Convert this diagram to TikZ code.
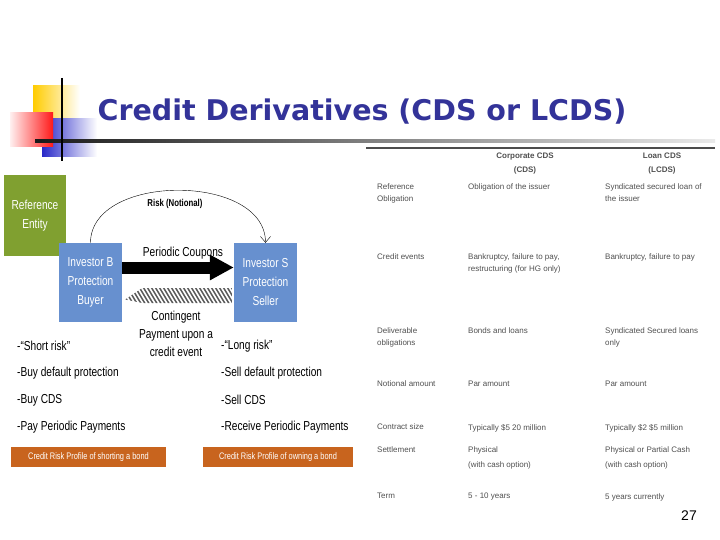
\documentclass[tikz,border=0pt]{standalone}
\usepackage{fontspec}
\setmainfont{Liberation Sans}
\newfontfamily\narrowfont[FakeStretch=0.78]{Liberation Sans}
\newfontfamily\titlefont{DejaVu Sans}
\usetikzlibrary{arrows.meta,positioning,calc}
\definecolor{titleblue}{RGB}{51,51,153}
\definecolor{entgreen}{RGB}{128,160,48}
\definecolor{invblue}{RGB}{103,144,207}
\definecolor{profor}{RGB}{200,100,30}
\definecolor{logoyel}{RGB}{255,204,0}
\definecolor{logoblue}{RGB}{40,40,200}
\definecolor{tabgray}{RGB}{80,80,80}
\begin{document}
\begin{tikzpicture}[x=1pt, y=-1pt,
  font=\narrowfont\fontsize{13}{19}\selectfont,
  entity/.style={fill=entgreen, text=white, align=center, minimum width=62pt, minimum height=81pt, inner sep=0pt},
  investor/.style={fill=invblue, text=white, align=center, minimum width=63pt, minimum height=79pt, inner sep=0pt},
  profile/.style={fill=profor, text=white, font=\narrowfont\fontsize{9.5}{11}\selectfont, minimum height=20pt, inner sep=0pt},
  bul/.style={anchor=west, inner sep=0pt},
  cell/.style={anchor=north west, align=left, inner sep=0pt, text=tabgray, font=\fontsize{8}{12}\selectfont},
  hdr/.style={cell, anchor=north, align=center, font=\bfseries\fontsize{8}{14}\selectfont},
  arr/.style={-{Straight Barb[length=6pt,width=10pt]}, thin},
  stripe/.style={line width=1.5pt, black!65}
]
\fill[white] (0,0) rectangle (720,540);
\useasboundingbox (0,0) rectangle (720,540);
% ---------------- logo and title
\fill[left color=logoyel, right color=white] (33,86) rectangle (80,120);
\fill[left color=logoblue, right color=white] (42,119) rectangle (97,157);
\fill[left color=red!6, right color=red!90] (10,113) rectangle (53,147);
\fill[left color=black!90, right color=black!8] (35,139.5) rectangle (715,142.5);
\draw[line width=2.5pt] (62,78) -- (62,161);
\node[font=\titlefont\bfseries\fontsize{28.5}{32}\selectfont, text=titleblue] (title) at (362,112) {Credit Derivatives (CDS or LCDS)};
% ---------------- left: parties
\node[entity] (refent) at (35,215.5) {Reference\\Entity};
\node[investor] (invB) at (90.5,282.5) {Investor B\\Protection\\Buyer};
\node[investor] (invS) at (265.5,282.5) {Investor S\\Protection\\Seller};
\node[font=\narrowfont\bfseries\fontsize{10}{12}\selectfont] (risk) at (175,204) {Risk (Notional)};
\node (coup) at (183,253) {Periodic Coupons};
\node[align=center, font=\narrowfont\fontsize{13}{18}\selectfont] (cont) at (176,334) {Contingent\\Payment upon a\\credit event};
% ---------------- left: profiles
\node[bul] (sb1) at (17,346) {-“Short risk”};
\node[bul, below=27pt of sb1.west, anchor=west] (sb2) {-Buy default protection};
\node[bul, below=27pt of sb2.west, anchor=west] (sb3) {-Buy CDS};
\node[bul, below=27pt of sb3.west, anchor=west] (sb4) {-Pay Periodic Payments};
\node[bul] (lb1) at (221,346) {-“Long risk”};
\node[bul, below=27pt of lb1.west, anchor=west] (lb2) {-Sell default protection};
\node[bul, below=27pt of lb2.west, anchor=west] (lb3) {-Sell CDS};
\node[bul, below=27pt of lb3.west, anchor=west] (lb4) {-Receive Periodic Payments};
\node[profile, minimum width=155pt] (pshort) at (88.5,457) {Credit Risk Profile of shorting a bond};
\node[profile, minimum width=150pt] (plong) at (278,457) {Credit Risk Profile of owning a bond};
% ---------------- arrows
\draw[arr] (invB.north) .. controls +(0,-70) and +(0,-70) .. (invS.north);
\draw[line width=12pt, -{Triangle[length=24pt,width=24pt]}] ([yshift=15pt]invB.east) -- ([yshift=15pt]invS.west);
\begin{scope}
  \clip ($(invB.east)+(3,17)$) -- ($(invB.east)+(20,5.5)$) -- ($(invS.west)+(-2,5.5)$)
    -- ($(invS.west)+(-2,20.5)$) -- ($(invB.east)+(20,20.5)$) -- cycle;
  \foreach \i in {0,...,30}
    \draw[stripe] ($(invB.east)+(4*\i-8,3)$) -- ++(12,20);
\end{scope}
% ---------------- right: table
\draw[black!70, line width=1.5pt] (366,148) -- (715,148);
\node[hdr] (hcorp) at (525,153) {Corporate CDS\\(CDS)};
\node[hdr] (hloan) at (662,153) {Loan CDS\\(LCDS)};
\node[cell] (r1a) at (377,184) {Reference\\Obligation};
\node[cell] (r1b) at (468,184) {Obligation of the issuer};
\node[cell] (r1c) at (605,184) {Syndicated secured loan of\\the issuer};
\node[cell] (r2a) at (377,254) {Credit events};
\node[cell] (r2b) at (468,254) {Bankruptcy, failure to pay,\\restructuring (for HG only)};
\node[cell] (r2c) at (605,254) {Bankruptcy, failure to pay};
\node[cell] (r3a) at (377,328) {Deliverable\\obligations};
\node[cell] (r3b) at (468,328) {Bonds and loans};
\node[cell] (r3c) at (605,328) {Syndicated Secured loans\\only};
\node[cell] (r4a) at (377,381) {Notional amount};
\node[cell] (r4b) at (468,381) {Par amount};
\node[cell] (r4c) at (605,381) {Par amount};
\node[cell] (r5a) at (377,424) {Contract size};
\node[cell] (r5b) at (468,424) {Typically \$5 20 million};
\node[cell] (r5c) at (605,424) {Typically \$2 \$5 million};
\node[cell] (r6a) at (377,447) {Settlement};
\node[cell] (r6b) at (468,447) {Physical\\[3pt](with cash option)};
\node[cell] (r6c) at (605,447) {Physical or Partial Cash\\[3pt](with cash option)};
\node[cell] (r7a) at (377,493) {Term};
\node[cell] (r7b) at (468,493) {5 - 10 years};
\node[cell] (r7c) at (605,493) {5 years currently};
\node[font=\fontsize{14}{16}\selectfont] (pgno) at (689,516) {27};
\end{tikzpicture}
\end{document}
